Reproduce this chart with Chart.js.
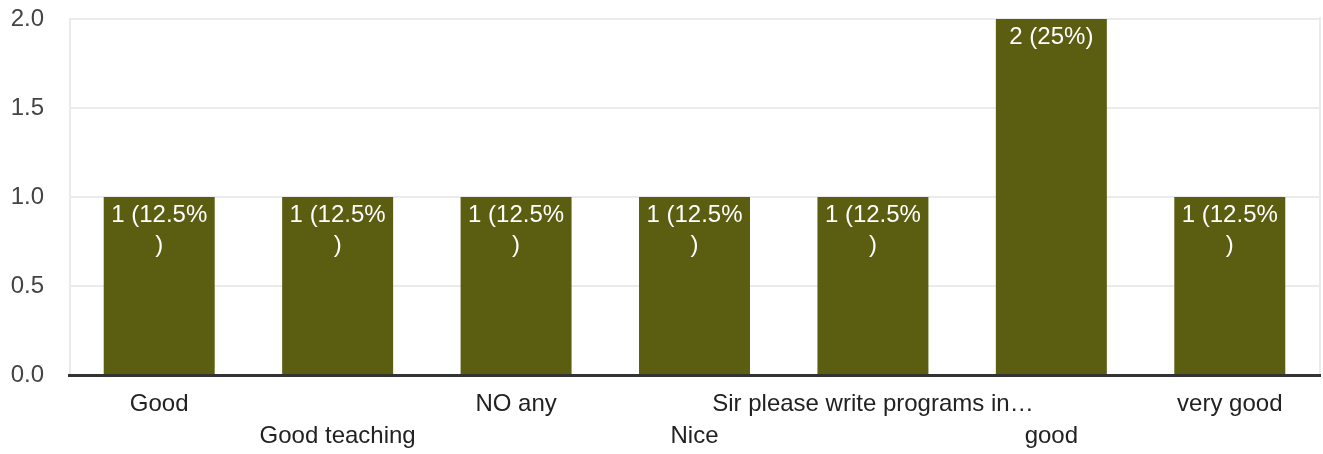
<!DOCTYPE html>
<html>
<head>
<meta charset="utf-8">
<script src="https://cdn.jsdelivr.net/npm/chart.js@4.4.1/dist/chart.umd.min.js"></script>
<style>
  html, body { margin: 0; padding: 0; background: #ffffff; }
  #wrap { width: 1323px; height: 454px; position: relative; }
</style>
</head>
<body>
<div id="wrap"><canvas id="c" width="1323" height="454"></canvas></div>
<script>
const categories = ['Good', 'Good teaching', 'NO any', 'Nice', 'Sir please write programs in\u2026', 'good', 'very good'];
const counts = [1, 1, 1, 1, 1, 2, 1];
const barLabels = ['1 (12.5%)', '1 (12.5%)', '1 (12.5%)', '1 (12.5%)', '1 (12.5%)', '2 (25%)', '1 (12.5%)'];
const yTicks = [0, 0.5, 1, 1.5, 2];

const FONT = '"Liberation Sans", Arial, sans-serif';
const BAR_COLOR = '#5b5e11';

// alternate label rows (odd categories go on the second row)
const xLabels = categories.map((c, i) => i % 2 === 0 ? c : ['', c]);

const overlayPlugin = {
  id: 'overlay',
  afterDatasetsDraw(chart) {
    const ctx = chart.ctx;
    const area = chart.chartArea;
    const y = chart.scales.y;
    const meta = chart.getDatasetMeta(0);
    ctx.save();
    // right border line
    ctx.strokeStyle = '#ebebeb';
    ctx.lineWidth = 2;
    ctx.beginPath();
    ctx.moveTo(area.right + 1, y.getPixelForValue(2) - 2);
    ctx.lineTo(area.right + 1, area.bottom);
    ctx.stroke();
    // baseline
    ctx.strokeStyle = '#333333';
    ctx.lineWidth = 3;
    ctx.beginPath();
    const by = y.getPixelForValue(0) + 0.5;
    ctx.moveTo(area.left - 2, by);
    ctx.lineTo(area.right + 2, by);
    ctx.stroke();
    // bar labels
    ctx.fillStyle = '#ffffff';
    ctx.font = '24px ' + FONT;
    ctx.textAlign = 'center';
    ctx.textBaseline = 'alphabetic';
    meta.data.forEach((bar, i) => {
      const text = barLabels[i];
      const maxW = bar.width - 12;
      const lines = [];
      let cur = '';
      for (const ch of text) {
        if (ctx.measureText(cur + ch).width > maxW && cur.length) {
          lines.push(cur);
          cur = ch;
        } else {
          cur += ch;
        }
      }
      if (cur) lines.push(cur);
      lines.forEach((ln, k) => {
        ctx.fillText(ln, bar.x, bar.y + 25 + k * 30);
      });
    });
    ctx.restore();
  }
};

new Chart(document.getElementById('c'), {
  type: 'bar',
  data: {
    labels: xLabels,
    datasets: [{
      data: counts,
      backgroundColor: BAR_COLOR,
      borderWidth: 0,
      barPercentage: 0.622,
      categoryPercentage: 1.0
    }]
  },
  options: {
    responsive: false,
    animation: false,
    devicePixelRatio: 1,
    layout: { padding: { top: 19, right: 4, left: 0, bottom: 0 } },
    plugins: {
      legend: { display: false },
      tooltip: { enabled: false },
      title: { display: false }
    },
    scales: {
      x: {
        grid: { display: false, drawTicks: false },
        border: { display: false },
        ticks: {
          autoSkip: false,
          maxRotation: 0,
          minRotation: 0,
          padding: 13,
          color: '#222222',
          font: { family: FONT, size: 24, lineHeight: 1.33 }
        },
        afterFit(scale) {
          scale.height = 79;
          scale.paddingLeft = 0; scale.paddingRight = 0;
          scale.paddingTop = 0; scale.paddingBottom = 0;
        }
      },
      y: {
        min: 0,
        max: 2,
        afterBuildTicks(scale) { scale.ticks = yTicks.map(v => ({ value: v })); },
        grid: {
          color: '#ebebeb',
          lineWidth: 2,
          drawTicks: false
        },
        border: { display: true, color: '#ebebeb', width: 2 },
        ticks: {
          padding: 26,
          color: '#444444',
          font: { family: FONT, size: 24 },
          callback: v => Number(v).toFixed(1)
        },
        afterFit(scale) {
          scale.width = 70;
          scale.paddingTop = 0; scale.paddingBottom = 0;
          scale.paddingLeft = 0; scale.paddingRight = 0;
        }
      }
    }
  },
  plugins: [overlayPlugin]
});
</script>
</body>
</html>
